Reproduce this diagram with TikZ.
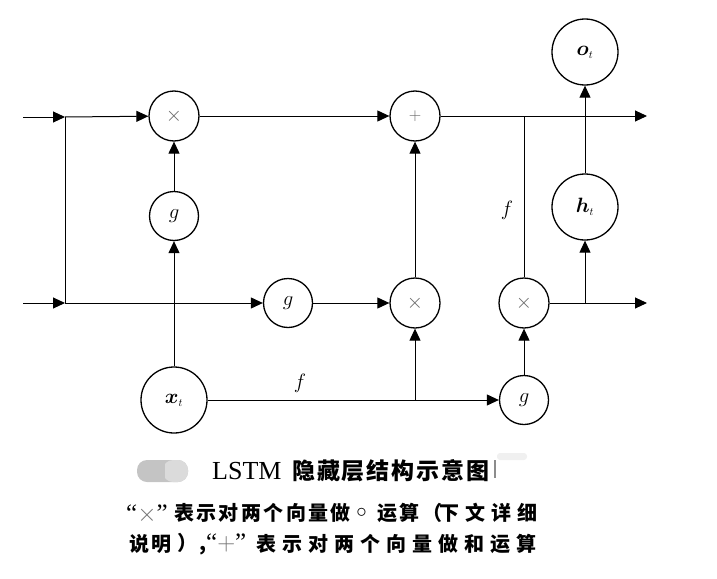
\documentclass[tikz,border=0pt]{standalone}
\usepackage{fontspec}
\usepackage{bm}
\usetikzlibrary{arrows.meta}
\newfontfamily\serifb{Liberation Serif}
\newfontfamily\cjknarrow[LetterSpace=12]{Noto Sans CJK SC}
\newfontfamily\cjkwide[LetterSpace=30]{Noto Sans CJK SC}
\newfontfamily\cjkmid[LetterSpace=10]{Noto Sans CJK SC}
\newfontfamily\cjkcap[LetterSpace=8]{Noto Sans CJK SC}
\tikzset{
  op/.style={draw, circle, line width=1.3pt, minimum size=50pt, inner sep=0pt, font=\fontsize{22}{22}\selectfont, text=black!60},
  gnode/.style={draw, circle, line width=1.3pt, minimum size=49pt, inner sep=0pt, font=\fontsize{22}{22}\selectfont},
  big/.style={draw, circle, line width=1.3pt, minimum size=66pt, inner sep=0pt, font=\fontsize{22}{22}\selectfont},
  conn/.style={line width=1pt, -{Triangle[length=12pt,width=11pt]}},
  plain/.style={line width=1pt},
  lab/.style={font=\fontsize{22}{22}\selectfont},
  seg/.style={anchor=west, inner sep=0pt, font=\fontsize{20}{20}\selectfont\bfseries},
  qt/.style={anchor=west, inner sep=0pt, font=\serifb\fontsize{25}{25}\selectfont},
}
\begin{document}
\begin{tikzpicture}[x=1pt,y=-1pt]
\useasboundingbox (0,0) rectangle (717,578);
% nodes
\node[op] (mA) at (174,116) {$\times$};
\node[gnode] (gA) at (174,216) {$g$};
\node[op, font=\fontsize{19}{19}\selectfont] (plus) at (415,116) {$+$};
\node[gnode] (gB) at (288,303) {$g$};
\node[op] (mB) at (415,303) {$\times$};
\node[op] (mC) at (524,303) {$\times$};
\node[big] (xt) at (174,400) {$\bm{x}_{\scriptscriptstyle t}$};
\node[gnode] (gC) at (524,400) {$g$};
\node[big] (ht) at (585,207) {$\bm{h}_{\scriptscriptstyle t}$};
\node[big] (ot) at (585,52) {$\bm{o}_{\scriptscriptstyle t}$};
% coordinates
\coordinate (inA) at (23,117);
\coordinate (inB) at (23,303);
\coordinate (J1) at (65,117);
\coordinate (J2) at (65,303);
\coordinate (K1) at (524,116);
\coordinate (outA) at (647,116);
\coordinate (outB) at (647,303);
\coordinate (K3) at (585,303);
\coordinate (K2) at (415,400);
% connectors
\draw[conn] (inA) -- (J1);
\draw[conn] (inB) -- (J2);
\draw[plain] (J1) -- (J2);
\draw[conn] (J1) -- (mA);
\draw[conn] (J2) -- (gB);
\draw[conn] (mA) -- (plus);
\draw[conn] (plus) -- (outA);
\draw[plain] (K1) -- (mC);
\draw[conn] (xt) -- (gA);
\draw[conn] (gA) -- (mA);
\draw[conn] (xt) -- (gC);
\draw[conn] (K2) -- (mB);
\draw[conn] (gB) -- (mB);
\draw[conn] (mB) -- (plus);
\draw[conn] (gC) -- (mC);
\draw[conn] (mC) -- (outB);
\draw[conn] (K3) -- (ht);
\draw[conn] (ht) -- (ot);
% labels
\node[lab] (fA) at (507,210) {$f$};
\node[lab] (fB) at (300,383) {$f$};
% caption blobs
\fill[black!23, rounded corners=10pt] (137,460) rectangle (188,482);
\fill[black!14, rounded corners=10pt] (163,460) rectangle (188,482);
\fill[black!23] (160,460) rectangle (165,482);
\fill[black!6, rounded corners=3pt] (497,453) rectangle (527,460);
\fill[black!45] (494,460) rectangle (496,478);
% caption
\node[anchor=west, inner sep=0pt, font=\serifb\fontsize{26}{26}\selectfont] (cap) at (212,471) {LSTM};
\node[seg, font=\fontsize{23}{23}\selectfont\bfseries] (capc) at (292,471) {\cjkcap 隐藏层结构示意图};
% line 1
\node[qt] (q1) at (126,514) {“{\color{black!55}$\times$}”};
\node[seg] (a1) at (174,513) {\cjknarrow 表示对两个向量做};
\node[anchor=center, inner sep=0pt, font=\fontsize{20}{20}\selectfont] (c1) at (361.5,513) {$\circ$};
\node[seg] (a2) at (377,513) {\cjknarrow 运算};
\node[seg] (a3) at (422,513) {\cjknarrow （};
\node[seg] (a4) at (439,513) {\cjkwide 下文详细};
% line 2
\node[seg] (b1) at (129,544) {\cjkmid 说明};
\node[seg] (b2) at (177,544) {\cjkmid ）,{\serifb\mdseries\fontsize{25}{25}\selectfont“{\color{black!55}$+$}”}};
\node[seg] (b4) at (256,544) {\cjkwide 表示对两个向量做和运算};
\end{tikzpicture}
\end{document}
